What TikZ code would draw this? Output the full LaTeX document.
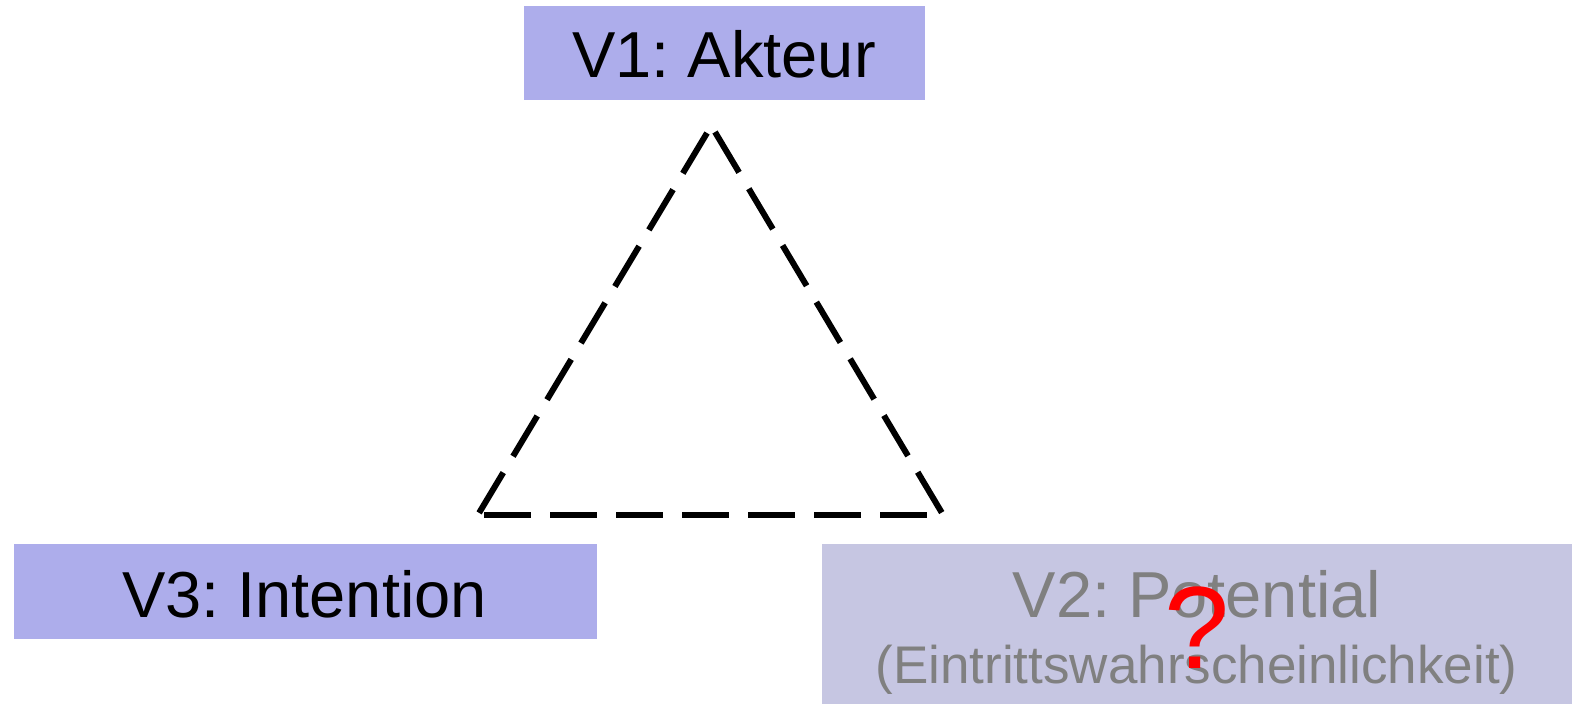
\documentclass[tikz,border=0pt]{standalone}
\usepackage{fontspec}
\setmainfont{Liberation Sans}
\definecolor{boxblue}{RGB}{173,173,235}
\definecolor{boxgrey}{RGB}{198,198,226}
\definecolor{textgrey}{RGB}{128,128,128}
\frenchspacing
\tikzset{
  box/.style={rectangle, draw=none, inner sep=0pt, outer sep=0pt},
  lbl/.style={inner sep=0pt, anchor=base, font=\fontsize{65}{78}\selectfont},
  sublbl/.style={inner sep=0pt, anchor=base, font=\fontsize{53}{64}\selectfont},
  edge/.style={line width=6pt, dash pattern=on 47pt off 19pt}
}
\begin{document}
\begin{tikzpicture}[x=1pt,y=-1pt]
  \useasboundingbox (0,0) rectangle (1572,704);
  \fill[white] (0,0) rectangle (1572,704);

  % coloured boxes
  \node[box, fill=boxblue, minimum width=401pt, minimum height=94pt] (v1) at (724.5,53) {};
  \node[box, fill=boxblue, minimum width=583pt, minimum height=95pt] (v3) at (305.5,591.5) {};
  \node[box, fill=boxgrey, minimum width=750pt, minimum height=160pt] (v2) at (1197,624) {};

  % box labels
  \node[lbl] (v1text) at (724,77) {V1: Akteur};
  \node[lbl] (v3text) at (304.5,617) {V3: Intention};
  \node[lbl, text=textgrey] (v2text) at (1197,617) {V2: Potential};
  \node[sublbl, text=textgrey] (v2sub) at (1196.5,683) {(Eintrittswahrscheinlichkeit)};
  \node[inner sep=0pt, anchor=base, text=red, font=\fontsize{117}{140}\selectfont]
    (q) at (1197.5,668) {?};

  % dashed triangle
  \coordinate (apexL) at (707,133);
  \coordinate (apexR) at (715,132);
  \coordinate (baseL) at (479,513);
  \coordinate (baseR) at (942,513);
  \coordinate (botL) at (484,515);
  \coordinate (botR) at (928,515);
  \draw[edge] (apexL) -- (baseL);
  \draw[edge] (apexR) -- (baseR);
  \draw[edge] (botL) -- (botR);
\end{tikzpicture}
\end{document}
